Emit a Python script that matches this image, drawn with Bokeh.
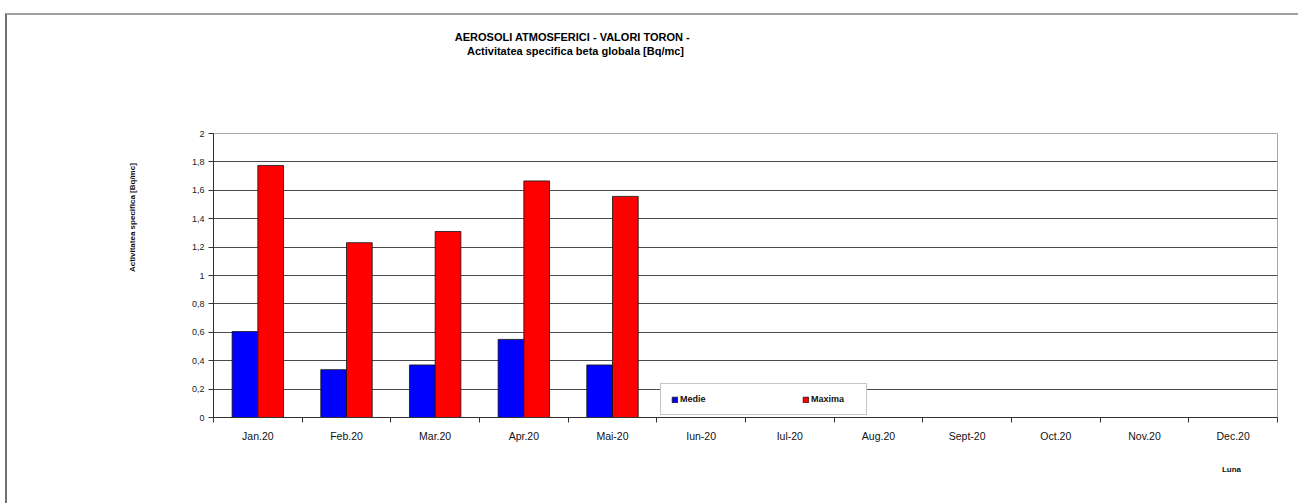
import numpy as np
from bokeh.plotting import figure
from bokeh.models import (ColumnDataSource, FixedTicker, CustomJSTickFormatter, Label,
                          Legend, LegendItem, Range1d)
from bokeh.transform import dodge
from bokeh.embed import file_html
from bokeh.resources import INLINE

months = ["Jan.20", "Feb.20", "Mar.20", "Apr.20", "Mai-20", "Iun-20", "Iul-20",
          "Aug.20", "Sept-20", "Oct.20", "Nov.20", "Dec.20"]
medie = [0.605, 0.337, 0.37, 0.55, 0.37, None, None, None, None, None, None, None]
maxima = [1.775, 1.231, 1.31, 1.666, 1.557, None, None, None, None, None, None, None]
yticks = [0, 0.2, 0.4, 0.6, 0.8, 1.0, 1.2, 1.4, 1.6, 1.8, 2.0]

title1 = "AEROSOLI ATMOSFERICI  - VALORI TORON  -"
title2 = "Activitatea specifica beta globala [Bq/mc]"
ylabel = "Activitatea specifica  [Bq/mc]"
xlabel = "Luna"

FONT = "Liberation Sans"

n = len(months)
src = ColumnDataSource(dict(
    x=[i + 0.5 for i in range(n)],
    medie=[np.nan if v is None else v for v in medie],
    maxima=[np.nan if v is None else v for v in maxima],
))

# canvas starts at page (7, 15) because of the CSS frame border
p = figure(width=1291, height=488, frame_width=1064, frame_height=284,
           x_range=Range1d(0, n), y_range=Range1d(0, 2),
           output_backend="svg", toolbar_location=None,
           min_border_left=206, min_border_right=21, min_border_top=118, min_border_bottom=86)
p.styles = {"margin-top": "13px", "margin-left": "5px",
            "border-top": "2px solid #a0a0a0", "border-left": "2px solid #707070"}
p.background_fill_color = "white"
p.border_fill_color = "white"
p.outline_line_color = "#a8a8a8"
p.outline_line_width = 1

bw = 0.29
r1 = p.vbar(x=dodge("x", -bw / 2), top="medie", width=bw, source=src,
            fill_color="#0000ff", line_color="#111111", line_width=0.8)
r2 = p.vbar(x=dodge("x", bw / 2), top="maxima", width=bw, source=src,
            fill_color="#ff0000", line_color="#111111", line_width=0.8)

# grid
p.xgrid.visible = False
p.ygrid.ticker = FixedTicker(ticks=yticks[1:-1])
p.ygrid.grid_line_color = "#4a4a4a"
p.ygrid.grid_line_width = 1

# y axis
p.yaxis.ticker = FixedTicker(ticks=yticks)
p.yaxis.formatter = CustomJSTickFormatter(
    code="var s = (Math.round(tick*10)/10).toString(); return s.replace('.', ',');")
p.yaxis.major_tick_out = 5
p.yaxis.major_tick_in = 0
p.yaxis.minor_tick_line_color = None
p.yaxis.axis_line_color = "#333333"
p.yaxis.major_tick_line_color = "#333333"
p.yaxis.major_label_standoff = 4
p.yaxis.major_label_text_font = FONT
p.yaxis.major_label_text_font_size = "9px"
p.yaxis.major_label_text_color = "#222222"

# x axis: labels at category centres, tick marks at boundaries
p.xaxis.ticker = FixedTicker(ticks=[i + 0.5 for i in range(n)],
                             minor_ticks=list(range(n + 1)))
p.xaxis.formatter = CustomJSTickFormatter(args=dict(labels=months),
                                          code="return labels[Math.floor(tick)] || '';")
p.xaxis.major_tick_out = 0
p.xaxis.major_tick_in = 0
p.xaxis.minor_tick_out = 5
p.xaxis.minor_tick_in = 0
p.xaxis.minor_tick_line_color = "#333333"
p.xaxis.axis_line_color = "#333333"
p.xaxis.major_label_standoff = 7
p.xaxis.major_label_text_font = FONT
p.xaxis.major_label_text_font_size = "10.5px"
p.xaxis.major_label_text_color = "#111111"

# titles and axis labels (in side panels so they are not clipped to the frame)
p.add_layout(Label(x=566, y=19, x_units="canvas", y_units="canvas", text=title1,
                   text_align="center", text_baseline="middle", text_font=FONT,
                   text_font_size="11px", text_font_style="bold", text_color="#000000"), "above")
p.add_layout(Label(x=566, y=33, x_units="canvas", y_units="canvas", text=title2,
                   text_align="center", text_baseline="middle", text_font=FONT,
                   text_font_size="11px", text_font_style="bold", text_color="#000000"), "above")
p.add_layout(Label(x=1222, y=452, x_units="canvas", y_units="canvas", text=xlabel,
                   text_align="center", text_baseline="middle", text_font=FONT,
                   text_font_size="8px", text_font_style="bold", text_color="#111111"), "above")
p.add_layout(Label(x=123, y=199, x_units="canvas", y_units="canvas", text=ylabel,
                   angle=np.pi / 2, text_align="center", text_baseline="middle",
                   text_font=FONT, text_font_size="8px", text_font_style="bold",
                   text_color="#111111"), "left")

# legend inside the frame (annotations in the centre are clipped to the frame)
legend = Legend(items=[LegendItem(label="Medie", renderers=[r1]),
                       LegendItem(label="Maxima", renderers=[r2])],
                orientation="horizontal", location=(447, 2),
                padding=10, margin=0, spacing=77, label_width=45,
                glyph_width=7, glyph_height=7, label_height=10, label_standoff=2,
                border_line_color="#8a8a8a", border_line_width=1,
                background_fill_color="white", background_fill_alpha=1.0,
                label_text_font=FONT, label_text_font_size="9px",
                label_text_font_style="bold", label_text_color="#111111")
p.add_layout(legend, "center")

open("out.html", "w").write(file_html(p, INLINE))
